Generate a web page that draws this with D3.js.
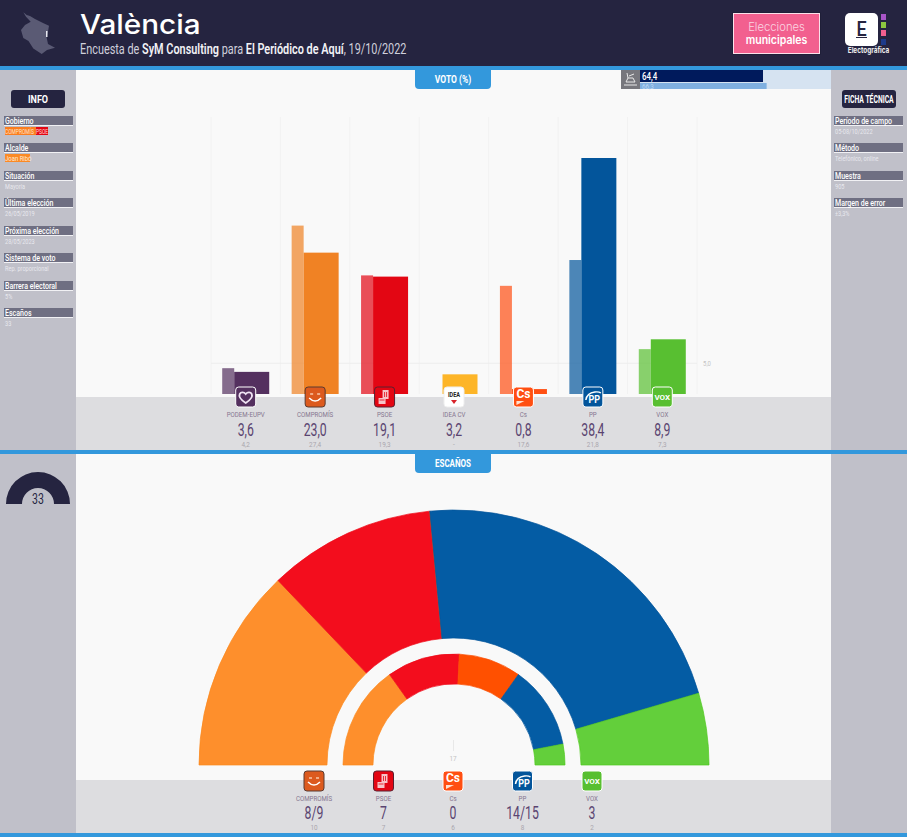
<!DOCTYPE html>
<html><head><meta charset="utf-8">
<script src="https://cdn.jsdelivr.net/npm/d3@7/dist/d3.min.js"></script>
<style>html,body{margin:0;padding:0;background:#fff;overflow:hidden}svg{display:block}text{font-family:"Roboto",sans-serif}</style>
</head><body><svg id="c" width="907" height="837"></svg>
<script>
// ---- data ----
const voteParties = ["PODEM-EUPV","COMPROMÍS","PSOE","IDEA CV","Cs","PP","VOX"];
const voteNow = [3.6,23.0,19.1,3.2,0.8,38.4,8.9];
const votePrev = [4.2,27.4,19.3,null,17.6,21.8,7.3];
const voteColors = ["#54305f","#f08224","#e30613","#fdb528","#ff4f12","#03559b","#58bf31"];
const seatParties = ["COMPROMÍS","PSOE","Cs","PP","VOX"];
const seatNowLabels = ["8/9","7","0","14/15","3"];
const seatNow = [8.5,7,0,14.5,3];
const seatPrev = [10,7,6,8,2];
const seatColors = ["#fe8f2c","#f30d1d","#ff5000","#045ca4","#63cf3b"];
const seatStrokes = ["#fb8a1e","#ee0a18","#fa4c00","#03559b","#4fc81c"];
const turnoutNow = 64.4, turnoutPrev = 66.3;
const totalSeats = 33;
const infoLabels = ["Gobierno","Alcalde","Situación","Última elección","Próxima elección","Sistema de voto","Barrera electoral","Escaños"];
const infoValues = ["COMPROMÍS-PSOE","Joan Ribó","Mayoría","26/05/2019","28/05/2023","Rep. proporcional","5%","33"];
const fichaLabels = ["Período de campo","Método","Muestra","Margen de error"];
const fichaValues = ["05-08/10/2022","Telefónico, online","905","±3,3%"];

const svg = d3.select("#c");
const NAVY="#252440", BLUE="#3398dc", SIDE="#c0c0c9", PANEL="#f9f9f9", FOOT="#dddde0";
const fmt = v => v==null ? "-" : d3.format(".1f")(v).replace(".",",");
const rect=(x,y,w,h,f,r)=>svg.append("rect").attr("x",x).attr("y",y).attr("width",w).attr("height",h).attr("fill",f).attr("rx",r||0);
// text drawn in Roboto and squeezed horizontally (k) to imitate the condensed face of the reference
const text=(x,y,s,size,fill,anchor,weight,k)=>svg.append("text")
  .attr("transform",`translate(${x},${y}) scale(${k||1},1)`)
  .text(s).attr("font-size",size).attr("fill",fill).attr("text-anchor",anchor||"start").attr("font-weight",weight||400);

// backgrounds
rect(0,0,907,837,SIDE);
rect(76,70,755,380,PANEL);
rect(76,454,755,379,PANEL);
rect(76,397,755,53,FOOT);
rect(76,780,755,53,FOOT);
rect(0,0,907,66,NAVY);
rect(0,66,907,4,BLUE);
rect(0,450,907,4,BLUE);
rect(0,833,907,4,BLUE);

// header
svg.append("path").attr("d","M23.300,12.300L26.700,15L30,16L35,19L43,23L49,25.700L48,31.700L46.500,36.700L48,44L55,47.700L47,50L41.700,54L33.300,48.500L28.500,41L23.300,38L21,30L25,25L30.700,21.700L26,16.700Z").attr("fill","#5a5a74");
rect(46,31,1.500,6,"#e8e8f0");
text(80,34,"València",27,"#fff","start",500,1.1).style("font-family","Inter");
const sub=text(80,54,"",14,"#d8d8e2","start",400,.778);
[["Encuesta de ",0],["SyM Consulting",1],[" para ",0],["El Periódico de Aquí",1],[", 19/10/2022",0]].forEach(([s,b])=>sub.append("tspan").text(s).attr("font-weight",b?600:400).attr("fill",b?"#f2f2f6":"#d0d0dc"));
rect(732.500,12.500,88,42,"#1a1a30");
rect(733.500,13.500,86,40,"#f2608f").attr("stroke","#fbe0ea").attr("stroke-width",1);
text(776.500,31,"Elecciones",11.500,"#fbd5e2","middle",300,.98).style("font-family","Inter");
text(776.500,44,"municipales",11.500,"#fff","middle",600,.92).style("font-family","Inter");
rect(845,13,33,33,"#fff",5);
text(861.500,36,"E",20,NAVY,"middle",500,.9);
rect(856,37,11,1,NAVY);
[["#a855c8",14],["#8cc63f",22],["#f2608f",30],["#1d3a8a",39]].forEach(([c,y])=>rect(881,y,5,6,c));
text(868.500,53,"Electográfica",8,"#eee","middle",700,.8).style("font-family","Inter");

// sidebars
function sidebar(x0,title,labels,values,ys,cx){
  rect(cx-27,90,54,18,NAVY,3);
  text(cx,102.500,title,10,"#fff","middle",700,title.length>4?.68:.9);
  labels.forEach((l,i)=>{
    const y=ys[i];
    rect(x0,y,69,9,"#6f6f82");
    rect(x0,y+9,69,1,"#f1f1f4");
    text(x0+1,y+7.500,l,9,"#fff","start",500,.78);
    if(l==="Gobierno"){
      rect(x0+1,y+11,31,8,"#fb7d1f");rect(x0+32,y+11,12,8,"#e30613");
      text(x0+1,y+17.500,"COMPROMÍS",7,"#ffe3c9","start",400,.7);text(x0+32,y+17.500,"PSOE",7,"#ffd5d5","start",400,.7);
    } else if(l==="Alcalde"){
      rect(x0+1,y+11,25,8,"#fb8a25");
      text(x0+1,y+17.500,values[i],7,"#ffe9d5","start",400,.85);
    } else text(x0+1,y+17.500,values[i],7,"#e8e8ee","start",400,.8);
  });
}
sidebar(4,"INFO",infoLabels,infoValues,[116,143,171,198,226,253,281,308],38);
sidebar(834,"FICHA TÉCNICA",fichaLabels,fichaValues,[116,143,171,198],869);

// tabs
[[70,"VOTO (%)",.85],[454,"ESCAÑOS",.8]].forEach(([y,s,k])=>{
  svg.append("path").attr("d",`M415,${y}H491V${y+15}a4,4 0 0 1 -4,4H419a4,4 0 0 1 -4,-4Z`).attr("fill",BLUE);
  text(453,y+12.500,s,10,"#fff","middle",700,k);
});

// turnout
const tx=d3.scaleLinear().domain([0,100]).range([640,831]);
rect(621,70,19,19,"#77777d");
rect(640,70,191,19,"#d6e3f1");
const ti=svg.append("g").attr("stroke","#e8e8e8").attr("fill","none").attr("stroke-width",1);
ti.append("path").attr("d","M624,85H637M626,82H635L633,78H628ZM628,78L627,73M629,76L634,74");
svg.selectAll(".tn").data([turnoutNow]).join("rect").attr("x",tx(0)).attr("y",70).attr("width",d=>tx(d)-tx(0)).attr("height",12).attr("fill","#001a5c");
svg.selectAll(".tp").data([turnoutPrev]).join("rect").attr("x",tx(0)).attr("y",83).attr("width",d=>tx(d)-tx(0)).attr("height",6).attr("fill","#80b0e0");
text(642,79.500,fmt(turnoutNow),10,"#fff","start",500,.8);
text(642,89,fmt(turnoutPrev),7,"#bcd6f0","start",400,.9);

// logos
function logo(name,cx,top){
  const g=svg.append("g").attr("transform",`translate(${cx-10},${top})`);
  const box=(f,st)=>g.append("rect").attr("width",20).attr("height",20).attr("rx",3).attr("fill",f).attr("stroke",st).attr("stroke-width",1);
  const lab=(s,size,fill,y,k,x)=>g.append("text").attr("transform",`translate(${x==null?10:x},${y}) scale(${k},1)`).attr("text-anchor","middle").attr("font-size",size).attr("font-weight",700).attr("fill",fill).text(s);
  if(name==="PODEM-EUPV"){box("#54305f","#fff");g.append("path").attr("d","M10,16C4,12 3,9 4,7C5,5 8,4.500 10,7C12,4.500 15,5 16,7C17,9 16,12 10,16Z").attr("fill","none").attr("stroke","#f0e4f4").attr("stroke-width",1.800);}
  if(name==="COMPROMÍS"){box("#dc5a1e","#5a3a30");g.append("path").attr("d","M4,11Q10,17 16,11").attr("fill","none").attr("stroke","#fff").attr("stroke-width",1.500);g.append("path").attr("d","M5,7H8M12,7H15").attr("stroke","#f7c7a8").attr("stroke-width",1.400);}
  if(name==="PSOE"){box("#e30613","#5a2030");g.append("path").attr("d","M8,3H14V12H11V17H4V11H8Z").attr("fill","#f6c4c8");g.append("path").attr("d","M10,5V10M5,13H10M12,5V10").attr("stroke","#e30613").attr("stroke-width",.800);}
  if(name==="IDEA CV"){box("#fff","#eee");lab("IDEA",7,"#222",10,.8);g.append("path").attr("d","M7,13L13,13L10,17Z").attr("fill","#d8232a");}
  if(name==="Cs"){box("#ff4f12","#fff");lab("Cs",12,"#fff",11,1);g.append("path").attr("d","M3,18V14L11,14Z").attr("fill","#ffe0cf");}
  if(name==="PP"){box("#03559b","#fff");lab("PP",10,"#fff",16,.9,11.500);g.append("path").attr("d","M3,13Q4,6 12,5Q16,4.500 18,6").attr("fill","none").attr("stroke","#fff").attr("stroke-width",1.500);}
  if(name==="VOX"){box("#58bf31","#fff");lab("VOX",8,"#fff",13,1);}
}

// vote bars
const baseY=394;
const xVote=d3.scaleBand().domain(voteParties).range([211,697]);
const yVote=d3.scaleLinear().domain([0,38.4]).range([baseY,158]);
const gridG=svg.append("g");
xVote.domain().concat("end").forEach(d=>{
  const x=d==="end"?xVote.range()[1]:xVote(d);
  gridG.append("line").attr("x1",x).attr("x2",x).attr("y1",117).attr("y2",baseY).attr("stroke","#f2f2f2");
});
gridG.append("line").attr("x1",211).attr("x2",697).attr("y1",yVote(5)).attr("y2",yVote(5)).attr("stroke","#ededed");
text(707,366,"5,0",7,"#c4c4c4","middle",400,.85);
const cxV=d=>xVote(d)+xVote.bandwidth()/2;
svg.append("g").selectAll("rect").data(voteParties.map((p,i)=>({p,v:votePrev[i],c:voteColors[i]})).filter(d=>d.v!=null)).join("rect")
  .attr("x",d=>cxV(d.p)-23.500).attr("width",12).attr("y",d=>yVote(d.v)).attr("height",d=>baseY-yVote(d.v)).attr("fill",d=>d.c).attr("opacity",.7);
svg.append("g").selectAll("rect").data(voteParties.map((p,i)=>({p,v:voteNow[i],c:voteColors[i]}))).join("rect")
  .attr("x",d=>cxV(d.p)-11.500).attr("width",35).attr("y",d=>yVote(d.v)).attr("height",d=>baseY-yVote(d.v)).attr("fill",d=>d.c);
voteParties.forEach((p,i)=>{
  const c=cxV(p);
  logo(p,c,387);
  text(c,417,p,8,"#85768f","middle",400,.77);
  text(c,435.500,fmt(voteNow[i]),18,"#5a4470","middle",400,.68);
  text(c,447,fmt(votePrev[i]),8,"#aaa6ae","middle",400,.8);
});

// hemicycle
const hc=svg.append("g").attr("transform","translate(454,765)");
const pie=d3.pie().sort(null).startAngle(-Math.PI/2).endAngle(Math.PI/2);
const ring=(vals,r0,r1)=>{
  const arc=d3.arc().innerRadius(r0).outerRadius(r1);
  hc.append("g").selectAll("path").data(pie(vals)).join("path").attr("d",arc).attr("fill",(d,i)=>seatColors[i]).attr("stroke",(d,i)=>seatStrokes[i]).attr("stroke-width",.7);
};
ring(seatNow,127,255);
ring(seatPrev,81,111);
svg.append("line").attr("x1",453.500).attr("x2",453.500).attr("y1",740).attr("y2",751).attr("stroke","#e8e8e8");
text(453,761,"17",8,"#c4c4c4","middle",400,.8);
const xSeat=d3.scalePoint().domain(seatParties).range([314,592]);
seatParties.forEach((p,i)=>{
  const c=xSeat(p);
  logo(p,c,771);
  text(c,800.500,p,8,"#85768f","middle",400,.77);
  text(c,818.500,seatNowLabels[i],18,"#5a4470","middle",400,.68);
  text(c,830,seatPrev[i],8,"#aaa6ae","middle",400,.8);
});

// gauge
const gauge=d3.arc().innerRadius(16).outerRadius(32).startAngle(-Math.PI/2).endAngle(Math.PI/2);
svg.append("path").attr("transform","translate(38,504)").attr("d",gauge()).attr("fill",NAVY);
text(38,504,totalSeats,14,NAVY,"middle",400,.75);
</script></body></html>
